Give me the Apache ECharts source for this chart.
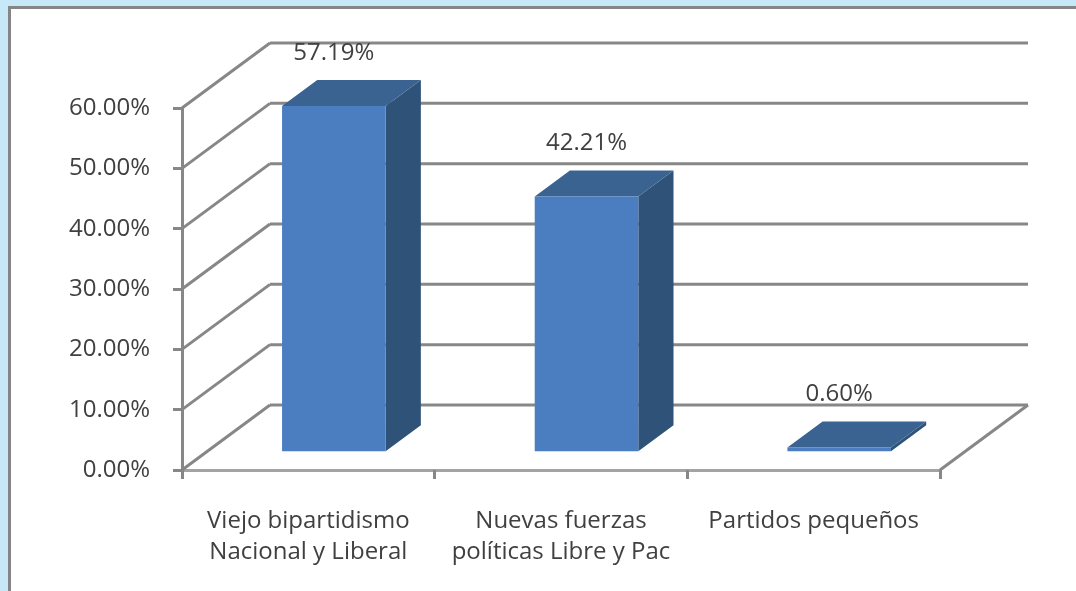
<!DOCTYPE html>
<html><head><meta charset="utf-8">
<script src="https://cdn.jsdelivr.net/npm/echarts@6/dist/echarts.min.js"></script>
<style>
html,body{margin:0;padding:0;background:#c6e8f8;overflow:hidden;width:1076px;height:591px;position:relative;}
#panel{position:absolute;left:8px;top:6px;width:1200px;height:700px;background:#fff;border:3px solid #858585;}
#c{position:absolute;left:0;top:0;width:1076px;height:591px;}
</style>
</head><body><div id="panel"></div><div id="c"></div>
<script>
const categories = ['Viejo bipartidismo\nNacional y Liberal', 'Nuevas fuerzas\npolíticas Libre y Pac', 'Partidos pequeños'];
const values = [57.19, 42.21, 0.60];
const valueLabels = ['57.19%', '42.21%', '0.60%'];
const yTicks = [0, 10, 20, 30, 40, 50, 60];
const yTickLabels = ['0.00%', '10.00%', '20.00%', '30.00%', '40.00%', '50.00%', '60.00%'];

const DX = 88, DY = -65;          // depth offset of the back wall (px)
const GRID = '#878787';
const FONT = '"Open Sans", sans-serif';

const chart = echarts.init(document.getElementById('c'), null, {renderer: 'canvas'});

function wallItem(params, api) {
  const v = api.value(1);
  const cs = params.coordSys;
  const left = cs.x, right = cs.x + cs.width;
  const y = api.coord([0, v])[1];
  const ls = {stroke: GRID, lineWidth: 3};
  const children = [
    {type: 'line', shape: {x1: left, y1: y, x2: left + DX, y2: y + DY}, style: ls},
    {type: 'line', shape: {x1: left + DX, y1: y + DY, x2: right + DX, y2: y + DY}, style: ls}
  ];
  if (v === 0) {
    children.push({type: 'line', shape: {x1: right, y1: y, x2: right + DX, y2: y + DY}, style: ls});
  }
  return {type: 'group', children};
}

function barItem(params, api) {
  const i = api.value(0), v = api.value(1);
  const p0 = api.coord([i, 0]);
  const p1 = api.coord([i, v]);
  const band = api.size([1, 0])[0];
  const w = band * 0.41;
  const f = 0.29, d = 0.4;
  const xl = p0[0] - w / 2 + f * DX, xr = xl + w;
  const yb = p0[1] + f * DY, yt = p1[1] + f * DY;
  const ddx = d * DX, ddy = d * DY;
  return {type: 'group', children: [
    {type: 'polygon', shape: {points: [[xr, yt], [xr + ddx, yt + ddy], [xr + ddx, yb + ddy], [xr, yb]]},
      style: {fill: '#2f5378'}},
    {type: 'polygon', shape: {points: [[xl, yt], [xr, yt], [xr + ddx, yt + ddy], [xl + ddx, yt + ddy]]},
      style: {fill: '#3a6391'}},
    {type: 'rect', shape: {x: xl, y: yt, width: w, height: Math.max(yb - yt, 0.5)},
      style: {fill: '#4a7ec0'}},
    {type: 'text', x: (xl + xr) / 2, y: yt - 53,
      style: {text: valueLabels[params.dataIndex], fill: '#404040', font: '24px ' + FONT,
        align: 'center', verticalAlign: 'middle'}}
  ]};
}

chart.setOption({
  animation: false,
  grid: {left: 182, right: 136, top: 108, bottom: 121, containLabel: false},
  xAxis: {
    type: 'category', data: categories, boundaryGap: true,
    axisLine: {show: true, lineStyle: {color: '#a3a3a3', width: 3}},
    axisTick: {show: true, interval: 0, length: 9, lineStyle: {color: GRID, width: 3}},
    axisLabel: {interval: 0, color: '#404040', fontSize: 24, fontFamily: 'Open Sans', lineHeight: 31, margin: 36},
    splitLine: {show: false}
  },
  yAxis: {
    type: 'value', min: 0, max: 60, interval: 10,
    axisLine: {show: true, lineStyle: {color: GRID, width: 3}},
    axisTick: {show: true, length: 9, lineStyle: {color: GRID, width: 3}},
    axisLabel: {color: '#404040', fontSize: 24, fontFamily: 'Open Sans', margin: 32,
      formatter: (val) => yTickLabels[yTicks.indexOf(val)]},
    splitLine: {show: false}
  },
  series: [
    {type: 'custom', renderItem: wallItem, clip: false, z: 1, silent: true,
      data: yTicks.map(v => [0, v])},
    {type: 'custom', renderItem: barItem, clip: false, z: 3,
      data: values.map((v, i) => [i, v])}
  ]
});
</script>
</body></html>
